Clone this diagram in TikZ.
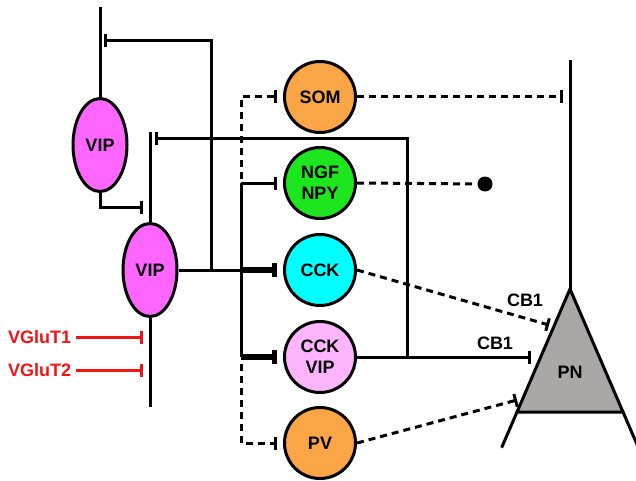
\documentclass[tikz,border=0pt]{standalone}
\usepackage{fontspec}
\setmainfont{Liberation Sans}
\usetikzlibrary{arrows.meta,shapes.geometric,calc}
\definecolor{vipmagenta}{RGB}{255,102,255}
\definecolor{somorange}{RGB}{250,165,70}
\definecolor{ngfgreen}{RGB}{30,230,30}
\definecolor{cckcyan}{RGB}{0,255,255}
\definecolor{cckvippink}{RGB}{255,180,255}
\definecolor{pngray}{RGB}{172,167,167}
\definecolor{vgred}{RGB}{240,20,20}
\begin{document}
\begin{tikzpicture}[
                x=1pt, y=-1pt,
                line width=3pt,
                every node/.style={font=\bfseries\fontsize{18}{21}\selectfont},
                cell/.style={circle,draw,minimum size=71pt,inner sep=0pt,align=center},
                vip/.style={ellipse,draw,fill=vipmagenta,minimum width=54pt,minimum height=93pt,inner sep=0pt},
                inh/.style={-{Bar[width=13pt,line width=3pt]}},
                inhthick/.style={line width=6pt,-{Bar[width=14pt,line width=5pt]}},
                dashline/.style={dash pattern=on 7pt off 5pt}
            ]
            \useasboundingbox (0,0) rectangle (636,481);

            % cells
            \node[vip] (vipA) at (100,145) {VIP};
            \node[vip] (vipB) at (150,270) {VIP};
            \node[cell,fill=somorange] (som) at (320,97) {SOM};
            \node[cell,fill=ngfgreen] (ngf) at (320,183) {NGF\\NPY};
            \node[cell,fill=cckcyan] (cck) at (320,270) {CCK};
            \node[cell,fill=cckvippink] (cckvip) at (320,357) {CCK\\VIP};
            \node[cell,fill=somorange] (pv) at (320,443) {PV};
            \node[circle,fill,minimum size=15pt,inner sep=0pt] (dot) at (485,184) {};

            % junctions and ends
            \coordinate (vipAtop) at (100,7);
            \coordinate (vipAfb) at (104,41);
            \coordinate (vipBsyn) at (143,207);
            \coordinate (vipBtop) at (150,132);
            \coordinate (vipBbot) at (150,407);
            \coordinate (vipBfb) at (155,139);
            \coordinate (split) at (211,270);
            \coordinate (trunk) at (241,0);
            \coordinate (loop) at (407,139);
            \coordinate (vgEnd) at (143,0);
            \coordinate (apex) at (570,289);
            \coordinate (apexTop) at (570,60);
            \coordinate (bl) at (517,412);
            \coordinate (br) at (623,412);
            \coordinate (somEnd) at (563,97);
            \coordinate (cbA) at (549,325);
            \coordinate (cbB) at (531,357);
            \coordinate (pvEnd) at (517,400);

            % pyramidal neuron
            \draw[fill=pngray] (apex) -- (bl) -- (br) -- cycle;
            \draw (apex) -- (apexTop);
            \draw (bl) -- ($(apex)!1.29!(bl)$);
            \draw (br) -- ($(apex)!1.29!(br)$);
            \node (pn) at (570,372) {PN};

            % VIP cells
            \draw (vipAtop) -- (vipA.north);
            \draw[inh] (vipA.south) |- (vipBsyn);
            \draw (vipBtop) -- (vipB.north);
            \draw (vipB.south) -- (vipBbot);
            \draw (vipB.east) -- (cck -| trunk);
            \draw[inh] (split) |- (vipAfb);

            % inputs onto interneurons
            \draw (ngf -| trunk) -- (cckvip -| trunk);
            \draw[inh] (ngf -| trunk) -- ($(ngf.west)+(-6,0)$);
            \draw[inhthick] (cck -| trunk) -- ($(cck.west)+(-6,0)$);
            \draw[inhthick] (cckvip -| trunk) -- ($(cckvip.west)+(-6,0)$);
            \draw[dashline,inh] ($(ngf -| trunk)+(0,-4)$) |- ($(som.west)+(-6,0)$);
            \draw[dashline,inh] ($(cckvip -| trunk)+(0,7)$) |- ($(pv.west)+(-6,0)$);

            % outputs
            \draw[dashline,inh] (som.east) -- (somEnd);
            \draw[dashline] (ngf.east) -- (dot);
            \draw[dashline,inh] (cck.east) -- (cbA);
            \draw[inh] (cckvip.east) -- (cbB);
            \draw[inh] (cckvip -| loop) -- (loop) -- (vipBfb);
            \draw[dashline,inh] (pv.east) -- (pvEnd);
            \node (cb1a) at (525,300) {CB1};
            \node (cb1b) at (495,343) {CB1};

            % glutamatergic inputs
            \node[text=vgred,anchor=east] (vg1) at (76,337) {VGluT1};
            \node[text=vgred,anchor=east] (vg2) at (76,370) {VGluT2};
            \draw[vgred,inh] (vg1.east) -- (vg1.east -| vgEnd);
            \draw[vgred,inh] (vg2.east) -- (vg2.east -| vgEnd);

        \end{tikzpicture}
\end{document}
